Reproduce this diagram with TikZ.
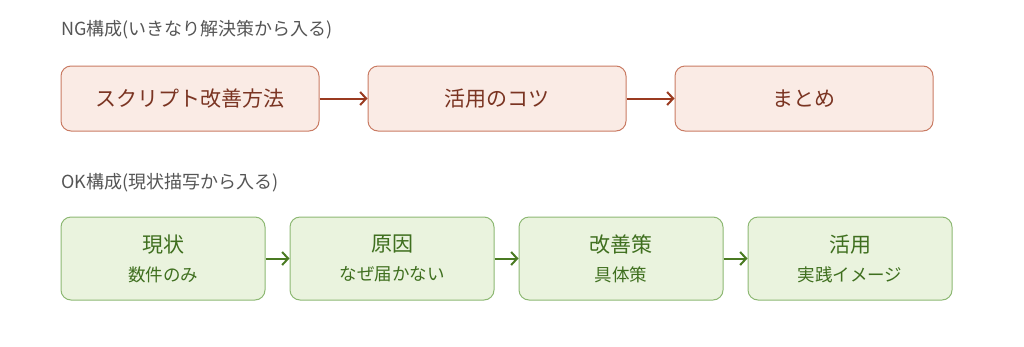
\documentclass[tikz,border=0pt]{standalone}
\usepackage{fontspec}
\setmainfont{Noto Sans CJK JP}
\usepackage{tikz}
\usetikzlibrary{arrows.meta,positioning}
\usepackage{xcolor}
\definecolor{ngLine}{HTML}{C97B63}
\definecolor{ngFill}{HTML}{FAEBE5}
\definecolor{ngText}{HTML}{7A3422}
\definecolor{ngArrow}{HTML}{9A3A20}
\definecolor{okLine}{HTML}{8DB873}
\definecolor{okFill}{HTML}{EAF3DE}
\definecolor{okText}{HTML}{3F6F1F}
\definecolor{okArrow}{HTML}{4A7A22}
\definecolor{titleGray}{HTML}{555555}
\tikzset{
  ngarr/.style={-{Straight Barb[length=6pt,width=13pt]}, line width=2pt, draw=ngArrow},
  okarr/.style={-{Straight Barb[length=6pt,width=13pt]}, line width=2pt, draw=okArrow},
  ngbox/.style={rounded corners=10pt, draw=ngLine, fill=ngFill, line width=1pt, align=center, minimum width=258pt, minimum height=65pt, inner sep=0pt, text=ngText, font=\fontsize{21}{24}\selectfont},
  okbox/.style={rounded corners=10pt, draw=okLine, fill=okFill, line width=1pt, align=center, minimum width=204pt, minimum height=83pt, inner sep=0pt, text=okText, font=\fontsize{21}{28}\selectfont},
  heading/.style={anchor=west, inner sep=0pt, text=titleGray, font=\fontsize{18}{20}\selectfont}
}
\newcommand{\subline}[1]{{\fontsize{17.5}{20}\selectfont #1}}

\begin{document}
\begin{tikzpicture}[x=1pt,y=-1pt]
  \useasboundingbox (0,0) rectangle (1024,346);
  \node[heading] (ngtitle) at (61,30) {NG構成(いきなり解決策から入る)};
  \node[ngbox] (ng1) at (190,98.5) {スクリプト改善方法};
  \node[ngbox, right=48pt of ng1] (ng2) {活用のコツ};
  \node[ngbox, right=48pt of ng2] (ng3) {まとめ};
  \draw[ngarr] (ng1) -- (ng2);
  \draw[ngarr] (ng2) -- (ng3);
  \node[heading] (oktitle) at (61,183) {OK構成(現状描写から入る)};
  \node[okbox] (ok1) at (163,258.5) {現状\\[1pt]\subline{数件のみ}};
  \node[okbox, right=24pt of ok1] (ok2) {原因\\[1pt]\subline{なぜ届かない}};
  \node[okbox, right=24pt of ok2] (ok3) {改善策\\[1pt]\subline{具体策}};
  \node[okbox, right=24pt of ok3] (ok4) {活用\\[1pt]\subline{実践イメージ}};
  \draw[okarr] (ok1) -- (ok2);
  \draw[okarr] (ok2) -- (ok3);
  \draw[okarr] (ok3) -- (ok4);
\end{tikzpicture}
\end{document}
